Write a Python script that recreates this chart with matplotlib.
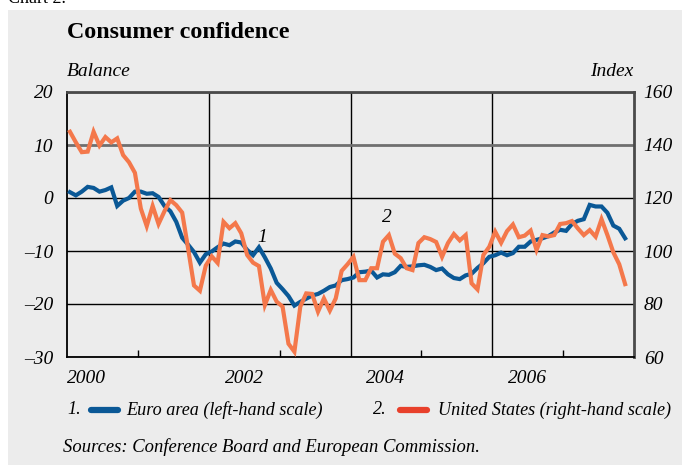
import matplotlib
matplotlib.use('Agg')
import matplotlib.pyplot as plt
from matplotlib.patches import Rectangle
from matplotlib.lines import Line2D
import numpy as np

# monthly data, Jan 2000 - Nov 2007
euro = [1.1, 0.5, 1.2, 2.1, 1.9, 1.2, 1.5, 2.0, -1.5, -0.5, 0.0, 1.2,
        1.2, 0.8, 0.9, 0.2, -1.5, -2.5, -4.5, -7.5, -8.8, -10.2, -12.2, -10.6,
        -10.1, -9.3, -8.6, -8.9, -8.2, -8.4, -9.8, -10.8, -9.3, -11.2, -13.3, -16.0,
        -17.2, -18.5, -20.3, -19.6, -19.0, -18.4, -18.1, -17.5, -16.8, -16.5, -15.5, -15.3,
        -15.0, -14.0, -13.9, -13.7, -15.0, -14.4, -14.5, -14.0, -12.8, -13.0, -12.9, -12.7,
        -12.6, -13.0, -13.6, -13.3, -14.4, -15.1, -15.3, -14.6, -14.3, -13.2, -12.3, -11.1,
        -10.8, -10.3, -10.8, -10.4, -9.2, -9.2, -8.2, -7.9, -7.6, -7.2, -6.5, -6.0,
        -6.2, -4.9, -4.3, -4.0, -1.3, -1.6, -1.6, -2.8, -5.2, -5.8, -7.6]
us = [145, 141, 137.3, 137.5, 145, 139.8, 143, 141, 142.5, 136.2, 133.5, 129.5,
      116, 109.4, 117, 110.2, 115, 119.2, 117.3, 114.5, 101, 87, 85, 94.5,
      98, 95.5, 111, 108.6, 110.5, 106.7, 98.5, 95.6, 94.3, 79.6, 85.3, 80.9,
      79, 65, 62, 79, 84, 83.8, 77.1, 82.1, 77.5, 82.1, 92.5, 95,
      97.8, 89, 89, 93.5, 93.5, 103.5, 106, 99, 97.3, 93.5, 92.8, 103,
      105.2, 104.5, 103.4, 97.8, 103, 106.4, 104, 106, 87.8, 85.5, 98.5, 101.6,
      107.3, 103.1, 107.5, 110, 105.2, 105.8, 107.7, 100.4, 106, 105.5, 106, 110.2,
      110.5, 111.3, 108.5, 106, 107.9, 105.4, 112, 106, 99.5, 95, 87.5]
t = 2000 + (np.arange(len(euro)) + 0.5) / 12

years = [2000, 2002, 2004, 2006]
left_ticks = [-30, -20, -10, 0, 10, 20]
right_ticks = [60, 80, 100, 120, 140, 160]

BLUE = '#0a5896'
ORANGE = '#f4784b'
RED = '#e8402b'
BG = '#ececec'
SERIF = ['Liberation Serif', 'DejaVu Serif']

plt.rcParams['font.family'] = SERIF

W, H = 682, 467
fig = plt.figure(figsize=(W / 100, H / 100), dpi=100, facecolor='white')


def fx(px):
    return px / W


def fy(py):
    return 1 - py / H


# gray panel
fig.add_artist(Rectangle((fx(8), fy(465)), 1 - fx(8), fy(10) - fy(465),
                         transform=fig.transFigure, facecolor=BG,
                         edgecolor='none', zorder=-10))
fig.text(fx(8), fy(3), 'Chart 2.', fontsize=13, ha='left', va='baseline')

ax = fig.add_axes([fx(67), fy(357), fx(634) - fx(67), fy(92) - fy(357)])
ax.set_facecolor('none')
ax.set_xlim(2000, 2008)
ax.set_ylim(-30, 20)

ax2 = ax.twinx()
ax2.set_ylim(60, 160)

# grid
ax.set_yticks(left_ticks)
ax.set_yticklabels([str(v).replace('-', '\u2013') for v in left_ticks],
                   fontsize=14, style='italic')
ax.tick_params(axis='y', length=0, pad=10)
ax.grid(axis='y', color='black', lw=1.0)
for v, gl in zip(left_ticks, ax.get_ygridlines()):
    if v == 10:
        gl.set_color('#6f6f6f')
        gl.set_linewidth(2.0)

ax.set_xticks([2002, 2004, 2006])
ax.set_xticklabels([])
ax.set_xticks([2001, 2003, 2005, 2007], minor=True)
ax.tick_params(axis='x', which='major', length=0)
ax.tick_params(axis='x', which='minor', direction='in', length=5, width=1)
ax.grid(axis='x', which='major', color='black', lw=1.0)
ax.set_axisbelow(True)

for y in years:
    if y == 2000:
        ax.text(y, -0.08, str(y), transform=ax.get_xaxis_transform(),
                ha='left', va='center', fontsize=14, style='italic')
    else:
        ax.text(y + 0.5, -0.08, str(y), transform=ax.get_xaxis_transform(),
                ha='center', va='center', fontsize=14, style='italic')

ax2.set_yticks(right_ticks)
ax2.set_yticklabels([str(v) for v in right_ticks], fontsize=14, style='italic')
ax2.tick_params(axis='y', length=0, pad=7)

for s in ['left', 'bottom']:
    ax.spines[s].set_color('black')
    ax.spines[s].set_linewidth(1.3)
for s in ['top', 'right']:
    ax.spines[s].set_color('#4a4a4a')
    ax.spines[s].set_linewidth(2.0)
for s in ax2.spines.values():
    s.set_visible(False)

# data
ax.plot(t, euro, color=BLUE, lw=3.0, solid_joinstyle='miter', zorder=3)
ax2.plot(t, us, color=ORANGE, lw=3.0, solid_joinstyle='miter', zorder=3)

ax.text(2002.76, -7.4, '1', fontsize=14, style='italic', ha='center', va='center')
ax2.text(2004.52, 112.8, '2', fontsize=14, style='italic', ha='center', va='center')

# titles
fig.text(fx(67), fy(33), 'Consumer confidence', fontsize=17.3, fontweight='bold',
         ha='left', va='center')
fig.text(fx(67), fy(72), 'Balance', fontsize=14, style='italic', ha='left', va='center')
fig.text(fx(633), fy(72), 'Index', fontsize=14, style='italic', ha='right', va='center')

# legend
LEG = 13.1
fig.text(fx(67), fy(410), '1.', fontsize=LEG, style='italic', ha='left', va='center')
fig.add_artist(Line2D([fx(91), fx(118)], [fy(410), fy(410)], transform=fig.transFigure,
                      color=BLUE, lw=4.5, solid_capstyle='round'))
fig.text(fx(126), fy(410), 'Euro area (left-hand scale)', fontsize=LEG, style='italic',
         ha='left', va='center')
fig.text(fx(373), fy(410), '2.', fontsize=LEG, style='italic', ha='left', va='center')
fig.add_artist(Line2D([fx(400), fx(427)], [fy(410), fy(410)], transform=fig.transFigure,
                      color=RED, lw=4.5, solid_capstyle='round'))
fig.text(fx(438), fy(410), 'United States (right-hand scale)', fontsize=LEG, style='italic',
         ha='left', va='center')

fig.text(fx(63), fy(447), 'Sources: Conference Board and European Commission.',
         fontsize=13.4, style='italic', ha='left', va='center')

fig.savefig('out.png', dpi=100, facecolor=fig.get_facecolor())
